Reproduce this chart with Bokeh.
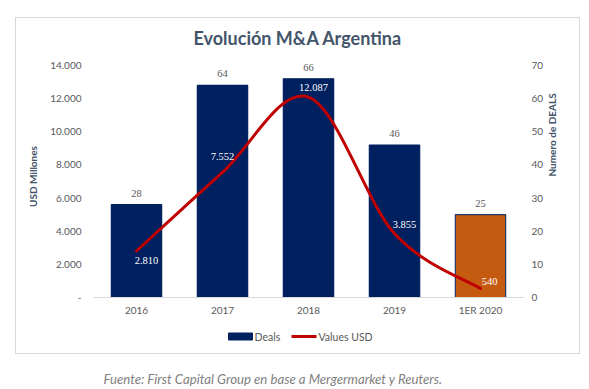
import math
from bokeh.plotting import figure
from bokeh.layouts import column
from bokeh.models import (Range1d, FactorRange, LinearAxis, FixedTicker, LabelSet, Title,
                          ColumnDataSource)
from bokeh.embed import file_html
from bokeh.resources import INLINE

# ---- data ----
years = ["2016", "2017", "2018", "2019", "1ER 2020"]
deals = [28, 64, 66, 46, 25]
values_usd = [2810, 7552, 12087, 3855, 540]
value_labels = ["2.810", "7.552", "12.087", "3.855", "540"]
usd_ticks = [0, 2000, 4000, 6000, 8000, 10000, 12000, 14000]
usd_tick_labels = ["-", "2.000", "4.000", "6.000", "8.000", "10.000", "12.000", "14.000"]
deal_ticks = [0, 10, 20, 30, 40, 50, 60, 70]
series_names = ["Deals", "Values USD"]
title_text = "Evolución M&A Argentina"
footer_text = "Fuente: First Capital Group en base a Mergermarket y Reuters."

# ---- styles ----
NAVY = "#002060"
ORANGE = "#C55A11"
RED = "#C00000"
bar_colors = [NAVY, NAVY, NAVY, NAVY, ORANGE]
bar_line_colors = [NAVY, NAVY, NAVY, NAVY, "#1F3864"]
label_dx = [10, 0, 5, 10, 9]
label_dy = [-10, 16, 10, 9, 7]
FONT = "Lato"
TICK_COLOR = "#595959"
TITLE_COLOR = "#44546A"

# ---- layout (page pixels) ----
B = 1                      # card border width
OX, OY = 15, 17            # card top-left (outer)
CW, CH = 563, 335          # card inner size
IX, IY = OX + B, OY + B    # card inner origin
FL, FR, FT, FB = 93, 523, 55, 297   # frame edges
Y14 = 65                   # page y of the axis maximum (14.000 / 70)
PB = 324                   # page y where the chart figure ends and the legend strip starts
top_scale = (FB - FT) / (FB - Y14)

p = figure(width=CW, height=PB - IY,
           x_range=FactorRange(factors=years, range_padding=0),
           y_range=Range1d(0, usd_ticks[-1] * top_scale),
           output_backend="svg", toolbar_location=None,
           min_border_left=FL - IX, min_border_right=CW - (FR - IX),
           min_border_top=FT - IY, min_border_bottom=PB - FB)
p.extra_y_ranges = {"deals": Range1d(0, deal_ticks[-1] * top_scale)}
p.outline_line_color = None
p.xgrid.visible = False
p.ygrid.visible = False

# bars (deals, right axis)
bar_src = ColumnDataSource(dict(x=years, deals=deals, fill=bar_colors, line=bar_line_colors,
                                txt=[str(d) for d in deals]))
p.vbar(x="x", top="deals", width=0.585, source=bar_src, y_range_name="deals",
       fill_color="fill", line_color="line", line_width=1.2)
p.add_layout(LabelSet(x="x", y="deals", text="txt", source=bar_src, y_range_name="deals",
                      y_offset=11.5, text_align="center", text_baseline="middle",
                      text_font=FONT, text_font_size="10.5px", text_color=TICK_COLOR))

# smooth line (Catmull-Rom -> cubic Bezier), numeric synthetic x on categorical range
xs = [i + 0.5 for i in range(len(years))]
n = len(xs)
def pt(i):
    i = max(0, min(n - 1, i))
    return xs[i], values_usd[i]
seg = dict(x0=[], y0=[], x1=[], y1=[], cx0=[], cy0=[], cx1=[], cy1=[])
for i in range(n - 1):
    p0, p1, p2, p3 = pt(i - 1), pt(i), pt(i + 1), pt(i + 2)
    seg["x0"].append(p1[0]); seg["y0"].append(p1[1])
    seg["x1"].append(p2[0]); seg["y1"].append(p2[1])
    seg["cx0"].append(p1[0] + (p2[0] - p0[0]) / 6); seg["cy0"].append(p1[1] + (p2[1] - p0[1]) / 6)
    seg["cx1"].append(p2[0] - (p3[0] - p1[0]) / 6); seg["cy1"].append(p2[1] - (p3[1] - p1[1]) / 6)
p.bezier(source=ColumnDataSource(seg), x0="x0", y0="y0", x1="x1", y1="y1",
         cx0="cx0", cy0="cy0", cx1="cx1", cy1="cy1",
         line_color=RED, line_width=3, line_cap="round")

val_src = ColumnDataSource(dict(x=xs, y=values_usd, txt=value_labels, dx=label_dx, dy=label_dy))
p.add_layout(LabelSet(x="x", y="y", text="txt", source=val_src, x_offset="dx", y_offset="dy",
                      text_align="center", text_baseline="middle",
                      text_font=FONT, text_font_size="10.5px", text_color="white"))

# axes
def style_axis(ax, standoff):
    ax.major_tick_line_color = None
    ax.minor_tick_line_color = None
    ax.major_tick_out = 0
    ax.minor_tick_out = 0
    ax.major_tick_in = 0
    ax.minor_tick_in = 0
    ax.major_label_standoff = standoff
    ax.major_label_text_font = FONT
    ax.major_label_text_font_size = "10px"
    ax.major_label_text_color = TICK_COLOR
    ax.axis_label_text_font = FONT
    ax.axis_label_text_font_size = "10px"
    ax.axis_label_text_font_style = "bold"
    ax.axis_label_text_color = TITLE_COLOR

xa = p.below[0]
style_axis(xa, 6)
xa.axis_line_color = "#D9D9D9"

ya = p.left[0]
style_axis(ya, 12)
ya.ticker = FixedTicker(ticks=usd_ticks)
ya.major_label_overrides = {t: l for t, l in zip(usd_ticks, usd_tick_labels)}
ya.axis_line_color = None
ya.axis_label = "USD Millones"
ya.axis_label_standoff = 8

ra = LinearAxis(y_range_name="deals", ticker=FixedTicker(ticks=deal_ticks))
style_axis(ra, 8)
ra.axis_line_color = None
ra.axis_label = "Numero de DEALS"
ra.axis_label_standoff = 6
ra.axis_label_orientation = math.pi / 2
ra.axis_label_text_align = "center"
p.add_layout(ra, "right")

# title
p.add_layout(Title(text=title_text, align="left", offset=193 - FL, standoff=13,
                   text_font=FONT, text_font_size="18px", text_font_style="bold",
                   text_color=TITLE_COLOR), "above")

# legend strip inside the card; its frame is aligned with the chart frame (FL..FR)
LH = CH - (PB - IY)
lf = figure(width=CW, height=LH, x_range=Range1d(FL, FR), y_range=Range1d(PB + LH, PB),
            output_backend="svg", toolbar_location=None, min_border=0,
            x_axis_location=None, y_axis_location=None)
lf.outline_line_color = None
lf.xgrid.visible = False
lf.ygrid.visible = False
LEG_Y = 336
lf.quad(left=[228], right=[252], top=[LEG_Y - 3.5], bottom=[LEG_Y + 3.5],
        fill_color=NAVY, line_color=NAVY)
lf.segment(x0=[291], y0=[LEG_Y], x1=[316], y1=[LEG_Y], line_color=RED, line_width=3)
lf.text(x=[254, 318], y=[LEG_Y, LEG_Y], text=series_names, text_align="left",
        text_baseline="middle", text_font={"value": FONT}, text_font_size="10.5px",
        text_color=TICK_COLOR)

card = column(p, lf, margin=(OY, 0, 0, OX), styles={"border": "1px solid #D9D9D9"})

# footer (separate strip below the card)
FTOP = OY + CH + 2 * B
FH = 389 - FTOP
f = figure(width=589, height=FH, x_range=Range1d(0, 589), y_range=Range1d(FTOP + FH, FTOP),
           output_backend="svg", toolbar_location=None, min_border=0,
           x_axis_location=None, y_axis_location=None)
f.outline_line_color = None
f.xgrid.visible = False
f.ygrid.visible = False
f.text(x=[103], y=[378], text=[footer_text], text_align="left",
       text_baseline="middle", text_font={"value": FONT}, text_font_size="13.2px",
       text_font_style="italic", text_color="#7F7F7F")

open("out.html", "w").write(file_html(column(card, f), INLINE))
